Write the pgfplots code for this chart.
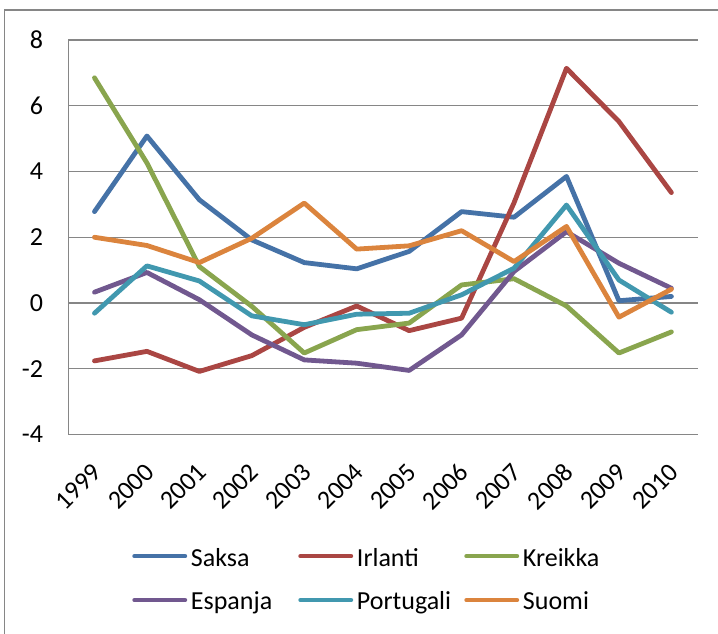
\documentclass[border=0pt]{standalone}
\usepackage{fontspec}
\setmainfont{Carlito}
\usepackage{pgfplots}
\pgfplotsset{compat=1.18}

\definecolor{gridgray}{RGB}{134,134,134}
\definecolor{saksa}{RGB}{69,114,167}
\definecolor{irlanti}{RGB}{170,70,67}
\definecolor{kreikka}{RGB}{137,165,78}
\definecolor{espanja}{RGB}{113,88,143}
\definecolor{portugali}{RGB}{65,152,175}
\definecolor{suomi}{RGB}{219,132,61}

\newcommand{\lgd}[1]{\makebox[80.5pt][l]{\strut #1}}

\begin{document}
\begin{tikzpicture}
\begin{axis}[
    scale only axis,
    width=472pt, height=295.9pt,
    xmin=-0.5, xmax=11.5,
    ymin=-4, ymax=8,
    ytick={-4,-2,0,2,4,6,8},
    xtick={0,1,2,3,4,5,6,7,8,9,10,11},
    xticklabels={1999,2000,2001,2002,2003,2004,2005,2006,2007,2008,2009,2010},
    axis x line*=bottom, axis y line*=left,
    axis line style={draw=gridgray, line width=1pt, -},
    ymajorgrids,
    grid style={draw=gridgray, line width=1pt},
    major tick length=0pt,
    tick label style={font=\fontsize{19.5}{23.4}\selectfont},
    /pgf/number format/assume math mode=true,
    yticklabel style={anchor=east, inner sep=0pt, xshift=-18.75pt},
    xticklabel style={anchor=east, inner sep=0pt, xshift=2pt, yshift=-24.8pt, rotate=45},
    legend columns=3,
    legend style={at={(0.1013,-0.364)}, anchor=west, draw=none, fill=none,
        inner sep=0pt, row sep=15pt, column sep=2.8pt, nodes={inner sep=0pt},
        /tikz/every even column/.append style={column sep=0pt},
        font=\fontsize{19.5}{23.4}\selectfont},
    legend image code/.code={\draw[#1, line width=3.2pt] (0pt,0pt) -- (38pt,0pt);},
    every axis plot/.append style={line width=3.6pt, line cap=round, line join=round},
    clip=false,
]
% series in Excel drawing order
\addplot[saksa] coordinates {
    (0,2.78) (1,5.08) (2,3.14) (3,1.92) (4,1.23) (5,1.04) (6,1.57) (7,2.78) (8,2.61) (9,3.85) (10,0.07) (11,0.20)};
\addlegendentry{\lgd{Saksa}}
\addplot[irlanti] coordinates {
    (0,-1.76) (1,-1.47) (2,-2.08) (3,-1.60) (4,-0.74) (5,-0.09) (6,-0.84) (7,-0.46) (8,3.05) (9,7.14) (10,5.52) (11,3.36)};
\addlegendentry{\lgd{Irlanti}}
\addplot[kreikka] coordinates {
    (0,6.85) (1,4.26) (2,1.11) (3,-0.10) (4,-1.52) (5,-0.81) (6,-0.61) (7,0.55) (8,0.74) (9,-0.09) (10,-1.52) (11,-0.88)};
\addlegendentry{\lgd{Kreikka}}
\addplot[espanja] coordinates {
    (0,0.33) (1,0.93) (2,0.10) (3,-0.97) (4,-1.73) (5,-1.83) (6,-2.05) (7,-0.97) (8,0.96) (9,2.17) (10,1.21) (11,0.45)};
\addlegendentry{\lgd{Espanja}}
\addplot[portugali] coordinates {
    (0,-0.31) (1,1.13) (2,0.67) (3,-0.39) (4,-0.66) (5,-0.34) (6,-0.31) (7,0.25) (8,1.06) (9,2.98) (10,0.70) (11,-0.28)};
\addlegendentry{\lgd{Portugali}}
\addplot[suomi] coordinates {
    (0,2.00) (1,1.75) (2,1.23) (3,1.97) (4,3.04) (5,1.64) (6,1.74) (7,2.20) (8,1.26) (9,2.33) (10,-0.43) (11,0.42)};
\addlegendentry{\lgd{Suomi}}
\end{axis}
% chart area frame, cut off at right and bottom as in the source
\draw[gridgray, line width=1pt] (-47.7pt,-160pt) -- (-47.7pt,318.4pt) -- (500pt,318.4pt);
\pgfresetboundingbox
\path[use as bounding box] (-51.2pt,-148.85pt) rectangle (487.3pt,325.9pt);
\end{tikzpicture}
\end{document}
